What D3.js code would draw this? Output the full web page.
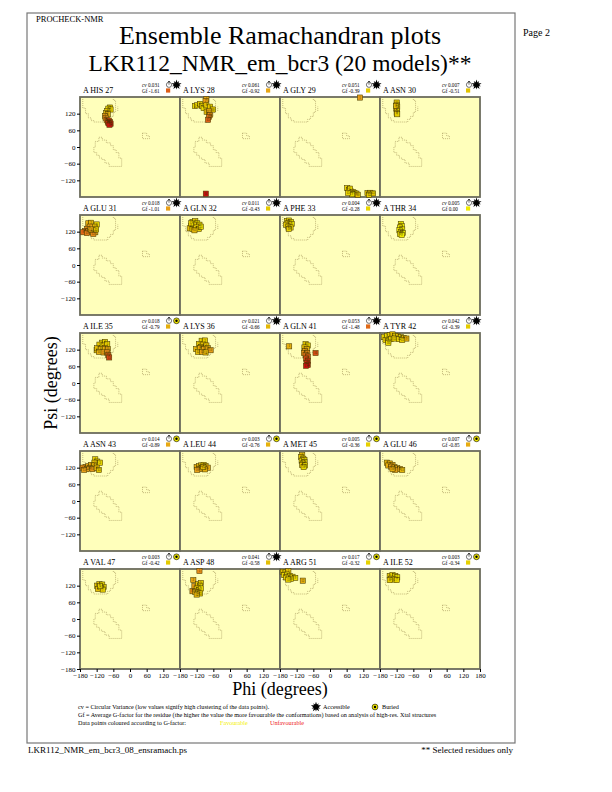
<!DOCTYPE html>
<html>
<head>
<meta charset="utf-8">
<script src="https://cdn.jsdelivr.net/npm/d3@7"></script>
<style>
  body { margin: 0; background: #fff; }
  svg { display: block; }
  text { font-family: "Liberation Serif", "DejaVu Serif", serif; }
</style>
</head>
<body>
<div id="chart"></div>
<script>
// residue panels, in page order
const residues = ['A HIS 27', 'A LYS 28', 'A GLY 29', 'A ASN 30',
  'A GLU 31', 'A GLN 32', 'A PHE 33', 'A THR 34',
  'A ILE 35', 'A LYS 36', 'A GLN 41', 'A TYR 42',
  'A ASN 43', 'A LEU 44', 'A MET 45', 'A GLU 46',
  'A VAL 47', 'A ASP 48', 'A ARG 51', 'A ILE 52'];
const cvValues = [0.031, 0.061, 0.051, 0.007, 0.018, 0.011, 0.004, 0.005, 0.018, 0.021,
  0.053, 0.042, 0.014, 0.003, 0.005, 0.007, 0.003, 0.041, 0.017, 0.003];
const gfValues = [-1.61, -0.92, -0.39, -0.51, -1.01, -0.43, -0.28, 0.00, -0.79, -0.66,
  -1.48, -0.39, -0.89, -0.76, -0.36, -0.85, -0.42, -0.58, -0.32, -0.34];
const accessible = [true, true, true, true, true, true, true, true, false, true,
  true, true, false, false, false, false, false, true, false, false];

// [phi, psi, G-factor] per model
const models = [
  [[-72, 142, -0.3], [-78, 138, -0.2], [-70, 135, -0.4], [-82, 130, -0.5], [-86, 122, -0.6], [-80, 118, -0.8], [-90, 112, -1.0], [-88, 105, -1.2], [-84, 98, -1.4], [-80, 92, -1.8], [-76, 95, -2.0], [-72, 90, -2.2], [-78, 86, -2.3], [-70, 84, -2.4], [-74, 80, -2.5]],
  [[-85, 172, -0.9], [-88, 165, -1.0], [-126, 148, -0.2], [-118, 150, -0.3], [-108, 155, -0.4], [-100, 148, -0.3], [-95, 140, -0.2], [-85, 150, -0.5], [-72, 145, -0.4], [-62, 135, -0.5], [-84, 127, -0.6], [-75, 128, -0.9], [-72, 115, -1.2], [-76, 108, -1.4], [-79, 98, -1.6], [-87, -168, -2.6]],
  [[108, 178, -1.0], [62, -148, -0.3], [68, -155, -0.2], [75, -160, -0.4], [72, -150, -0.3], [82, -162, -0.5], [88, -165, -0.3], [95, -168, -0.4], [80, -170, -0.2], [100, -172, -0.6], [135, -166, -0.5], [145, -165, -0.6], [155, -167, -0.5], [140, -172, -0.4], [65, -165, -0.3]],
  [[-120, 160, -0.5], [-120, 152, -0.5], [-118, 145, -0.4], [-121, 138, -0.6], [-119, 130, -0.5], [-120, 123, -0.5], [-118, 118, -0.4], [-122, 148, -0.6]],
  [[-150, 150, -0.8], [-140, 152, -0.7], [-120, 146, -0.3], [-128, 138, -0.6], [-145, 138, -1.0], [-155, 130, -1.2], [-162, 122, -1.4], [-168, 118, -1.5], [-150, 122, -1.1], [-138, 120, -1.0], [-125, 118, -0.9], [-132, 112, -1.2], [-155, 115, -1.3], [-142, 128, -0.9], [-122, 128, -0.5]],
  [[-135, 155, -0.3], [-125, 158, -0.4], [-118, 150, -0.2], [-110, 145, -0.3], [-130, 145, -0.5], [-140, 140, -0.4], [-145, 132, -0.6], [-135, 130, -0.5], [-122, 135, -0.3], [-112, 130, -0.4], [-128, 125, -0.7], [-140, 150, -0.3], [-105, 138, -0.2]],
  [[-155, 158, -0.2], [-148, 160, -0.3], [-140, 155, -0.2], [-152, 150, -0.3], [-145, 145, -0.3], [-138, 148, -0.2], [-158, 145, -0.4], [-150, 138, -0.3], [-142, 135, -0.4], [-148, 130, -0.3]],
  [[-105, 148, 0.0], [-102, 140, 0.0], [-108, 135, 0.0], [-100, 128, 0.1], [-110, 125, 0.0], [-104, 118, 0.0], [-98, 115, 0.0], [-108, 112, -0.1], [-102, 108, 0.0]],
  [[-100, 145, -0.3], [-90, 148, -0.3], [-110, 138, -0.4], [-95, 135, -0.5], [-82, 140, -0.4], [-120, 118, -0.5], [-118, 125, -0.6], [-105, 122, -0.7], [-90, 125, -0.8], [-80, 122, -0.9], [-112, 112, -0.8], [-95, 110, -1.0], [-82, 110, -1.2], [-78, 100, -1.6], [-75, 92, -1.9]],
  [[-102, 152, -0.3], [-90, 153, -0.4], [-112, 140, -0.5], [-96, 138, -0.6], [-85, 135, -0.6], [-105, 130, -0.5], [-122, 122, -0.7], [-108, 125, -0.8], [-94, 122, -0.9], [-80, 125, -0.8], [-70, 118, -1.0], [-115, 112, -0.6], [-100, 112, -0.9], [-88, 110, -0.7]],
  [[-147, 132, -0.8], [-88, 140, -0.3], [-80, 135, -0.4], [-92, 128, -0.6], [-84, 122, -0.8], [-90, 115, -1.0], [-94, 108, -1.1], [-82, 108, -1.2], [-88, 100, -1.4], [-80, 95, -1.6], [-86, 88, -1.9], [-80, 80, -2.1], [-84, 72, -2.3], [-80, 65, -2.5], [-86, 62, -2.6], [-52, 108, -1.8]],
  [[-165, 165, -0.3], [-155, 170, -0.2], [-145, 172, -0.4], [-135, 175, -0.6], [-125, 170, -0.5], [-115, 168, -0.4], [-105, 165, -0.3], [-95, 162, -0.5], [-85, 160, -0.8], [-160, 155, -0.3], [-150, 152, -0.2], [-140, 158, -0.3], [-128, 160, -0.4], [-112, 158, -0.3], [-100, 155, -0.4], [-150, 145, -0.2]],
  [[-125, 150, -0.3], [-118, 142, -0.4], [-108, 138, -0.3], [-128, 138, -0.6], [-160, 122, -1.1], [-170, 120, -1.2], [-150, 125, -0.9], [-140, 130, -0.8], [-130, 128, -0.7], [-145, 118, -1.0], [-135, 115, -1.1], [-120, 120, -0.7], [-112, 112, -0.5], [-155, 115, -1.0], [-165, 112, -1.0]],
  [[-120, 122, -0.8], [-112, 125, -0.7], [-104, 128, -0.6], [-95, 130, -0.5], [-88, 126, -0.7], [-80, 120, -0.9], [-100, 118, -0.8], [-110, 115, -0.9], [-90, 114, -0.8], [-118, 112, -1.0], [-96, 122, -0.6]],
  [[-100, 165, -0.6], [-104, 158, -0.5], [-96, 152, -0.4], [-102, 145, -0.3], [-92, 148, -0.3], [-92, 140, -0.3], [-98, 135, -0.4], [-100, 130, -0.4], [-90, 128, -0.3], [-95, 122, -0.2]],
  [[-155, 138, -0.7], [-145, 135, -0.8], [-135, 130, -0.9], [-150, 128, -0.8], [-140, 124, -1.0], [-128, 122, -0.9], [-118, 118, -0.8], [-108, 115, -0.9], [-125, 112, -1.0], [-135, 115, -0.8], [-100, 112, -0.7]],
  [[-118, 120, -0.5], [-110, 125, -0.4], [-100, 124, -0.3], [-95, 115, -0.4], [-105, 112, -0.5], [-115, 108, -0.6], [-98, 106, -0.4], [-108, 118, -0.3]],
  [[-110, 173, -1.2], [-132, 140, -0.9], [-128, 118, -1.0], [-115, 125, -0.5], [-105, 130, -0.4], [-108, 120, -0.4], [-120, 110, -0.6], [-112, 105, -0.5], [-105, 110, -0.3], [-135, 100, -1.1], [-125, 98, -0.8], [-115, 95, -0.6], [-108, 92, -0.5], [-120, 88, -0.7]],
  [[-170, 170, -0.5], [-160, 168, -0.4], [-150, 172, -0.6], [-165, 158, -0.3], [-155, 160, -0.3], [-145, 155, -0.2], [-135, 152, -0.3], [-158, 150, -0.4], [-125, 148, -0.2], [-140, 145, -0.3], [-150, 142, -0.3], [-98, 138, -0.8]],
  [[-145, 155, -0.4], [-135, 158, -0.3], [-125, 155, -0.3], [-118, 150, -0.2], [-140, 145, -0.4], [-130, 142, -0.3], [-120, 140, -0.3], [-145, 140, -0.4]]
];

// core region outlines (phi, psi)
const betaRegion = [[-170, 180], [-170, 140], [-160, 140], [-160, 120], [-150, 120], [-150, 105], [-140, 105], [-140, 95], [-130, 95], [-130, 90], [-80, 90], [-80, 100], [-70, 100], [-70, 110], [-60, 110], [-60, 125], [-52, 125], [-52, 168], [-60, 168], [-60, 180]];
const betaSpot = [[-44, 130], [-44, 146]];
const alphaRegion = [[-112, 35], [-100, 35], [-100, 25], [-85, 25], [-85, 15], [-70, 15], [-70, 5], [-60, 5], [-60, -10], [-50, -10], [-50, -20], [-40, -20], [-40, -40], [-30, -40], [-30, -70], [-75, -70], [-75, -58], [-90, -58], [-90, -45], [-100, -45], [-100, -40], [-110, -40], [-110, -30], [-120, -30], [-120, -20], [-130, -20], [-130, 0], [-125, 0], [-125, 20], [-112, 20], [-112, 35]];
const leftRegion = [[45, 50], [60, 50], [60, 40], [70, 40], [70, 30], [45, 30], [45, 50]];

const phiTicks = [-180, -120, -60, 0, 60, 120];
const psiTicks = [-120, -60, 0, 60, 120];

const size = 100;
const svg = d3.select('#chart').append('svg').attr('width', 612).attr('height', 792)
  .attr('font-family', '"Liberation Serif", serif');

const x = d3.scaleLinear().domain([-180, 180]).range([0, size]);
const y = d3.scaleLinear().domain([-180, 180]).range([size, 0]);
const gColor = d3.scaleLinear()
  .domain([0, -0.5, -1, -1.5, -2.5])
  .range(['#f0ea00', '#e2c400', '#e8a018', '#e06818', '#cc1010'])
  .clamp(true);
const line = d3.line().x((d) => x(d[0])).y((d) => y(d[1]));

// page frame and headings
svg.append('rect').attr('x', 27).attr('y', 13).attr('width', 488).attr('height', 730)
  .attr('fill', 'none').attr('stroke', '#777').attr('stroke-width', 1.2);
svg.append('text').attr('x', 36).attr('y', 22).attr('font-size', 8.5).text('PROCHECK-NMR');
svg.append('text').attr('x', 523).attr('y', 36).attr('font-size', 10).text('Page  2');
svg.append('text').attr('x', 280).attr('y', 43.5).attr('text-anchor', 'middle').attr('font-size', 26)
  .text('Ensemble Ramachandran plots');
svg.append('text').attr('x', 280).attr('y', 70.5).attr('text-anchor', 'middle').attr('font-size', 23.5)
  .text('LKR112_NMR_em_bcr3 (20 models)**');

function clockIcon(g, cx, cy) {
  g.append('rect').attr('x', cx - 0.7).attr('y', cy - 3.8).attr('width', 1.4).attr('height', 1).attr('fill', '#000');
  g.append('circle').attr('cx', cx).attr('cy', cy).attr('r', 2.6)
    .attr('fill', '#fff').attr('stroke', '#000').attr('stroke-width', 0.55);
  g.append('line').attr('x1', cx).attr('y1', cy).attr('x2', cx).attr('y2', cy - 2)
    .attr('stroke', '#000').attr('stroke-width', 0.55);
}

function exposureIcon(g, cx, cy, isAccessible) {
  if (isAccessible) {
    g.append('path').attr('transform', `translate(${cx},${cy})`)
      .attr('d', d3.symbol(d3.symbolStar, 32)()).attr('fill', '#000');
    g.append('path').attr('transform', `translate(${cx},${cy}) rotate(36)`)
      .attr('d', d3.symbol(d3.symbolStar, 24)()).attr('fill', '#000');
  } else {
    g.append('circle').attr('cx', cx).attr('cy', cy).attr('r', 2.9)
      .attr('fill', '#f2e800').attr('stroke', '#000').attr('stroke-width', 0.6);
    g.append('circle').attr('cx', cx).attr('cy', cy).attr('r', 1.2).attr('fill', '#000');
  }
}

residues.forEach((name, i) => {
  const col = i % 4;
  const row = Math.floor(i / 4);
  const g = svg.append('g').attr('transform', `translate(${80 + col * size},${97 + row * 118})`);

  g.append('rect').attr('width', size).attr('height', size).attr('fill', '#ffffbb');

  [betaRegion, betaSpot, alphaRegion, leftRegion].forEach((r) => {
    g.append('path').attr('d', line(r)).attr('fill', 'none')
      .attr('stroke', '#9a8a50').attr('stroke-width', 0.6).attr('stroke-dasharray', '1,1');
  });

  g.append('rect').attr('width', size).attr('height', size).attr('fill', 'none')
    .attr('stroke', '#6c6c5c').attr('stroke-width', 1.8);

  // one square per model, numbered
  const pts = g.append('g');
  pts.selectAll('rect').data(models[i]).join('rect')
    .attr('x', (d) => x(d[0]) - 2.6).attr('y', (d) => y(d[1]) - 2.6)
    .attr('width', 5.2).attr('height', 5.2)
    .attr('fill', (d) => gColor(d[2]))
    .attr('stroke', '#4a3c00').attr('stroke-width', 0.55);
  pts.selectAll('text').data(models[i]).join('text')
    .attr('x', (d) => x(d[0])).attr('y', (d) => y(d[1]) + 1.1)
    .attr('text-anchor', 'middle').attr('font-size', 3).attr('fill', '#3a3000')
    .text((d, j) => j + 1);

  // headers
  g.append('text').attr('x', 3).attr('y', -4).attr('font-size', 8).text(name);
  g.append('text').attr('x', 62).attr('y', -10.5).attr('font-size', 5.2)
    .html(`<tspan font-style="italic">cv</tspan> ${cvValues[i].toFixed(3)}`);
  g.append('text').attr('x', 62).attr('y', -4.3).attr('font-size', 5.2)
    .text(`Gf ${gfValues[i].toFixed(2)}`);
  clockIcon(g, 89, -12.2);
  exposureIcon(g, 96.5, -12.2, accessible[i]);
  g.append('rect').attr('x', 86).attr('y', -8.6).attr('width', 4.2).attr('height', 4.2)
    .attr('fill', gColor(gfValues[i]));

  if (col === 0) {
    const ay = g.append('g')
      .call(d3.axisLeft(y).tickValues(row === 4 ? [-180, ...psiTicks] : psiTicks).tickSize(3).tickPadding(1.5));
    ay.select('.domain').remove();
    ay.selectAll('text').attr('font-size', 7).attr('font-family', '"Liberation Serif", serif');
  }
  if (row === 4) {
    const ax = g.append('g').attr('transform', `translate(0,${size})`)
      .call(d3.axisBottom(x).tickValues(col === 3 ? [...phiTicks, 180] : phiTicks).tickSize(3).tickPadding(1));
    ax.select('.domain').remove();
    ax.selectAll('text').attr('font-size', 7).attr('font-family', '"Liberation Serif", serif');
  }
});

// axis titles
svg.append('text').attr('transform', 'translate(57,383) rotate(-90)').attr('text-anchor', 'middle')
  .attr('font-size', 18).text('Psi (degrees)');
svg.append('text').attr('x', 280).attr('y', 695).attr('text-anchor', 'middle')
  .attr('font-size', 18).text('Phi (degrees)');

// key
const key = svg.append('g').attr('font-size', 6.2);
key.append('text').attr('x', 78).attr('y', 709)
  .text('cv = Circular Variance (low values signify high clustering of the data points).');
exposureIcon(key, 316, 707, true);
key.append('text').attr('x', 323).attr('y', 709).text('Accessible');
exposureIcon(key, 375, 707, false);
key.append('text').attr('x', 382).attr('y', 709).text('Buried');
key.append('text').attr('x', 78).attr('y', 717)
  .text('Gf = Average G-factor for the residue (the higher the value the more favourable the conformations) based on analysis of high-res. Xtal structures');
key.append('text').attr('x', 78).attr('y', 725).text('Data points coloured according to G-factor:');
key.append('text').attr('x', 220).attr('y', 725).attr('fill', '#f4f000').text('Favourable');
key.append('text').attr('x', 270).attr('y', 725).attr('fill', '#ee2020').text('Unfavourable');

// footer
svg.append('text').attr('x', 28).attr('y', 753).attr('font-size', 9).text('LKR112_NMR_em_bcr3_08_ensramach.ps');
svg.append('text').attr('x', 513).attr('y', 753).attr('text-anchor', 'end').attr('font-size', 9)
  .text('** Selected residues only');
</script>
</body>
</html>
